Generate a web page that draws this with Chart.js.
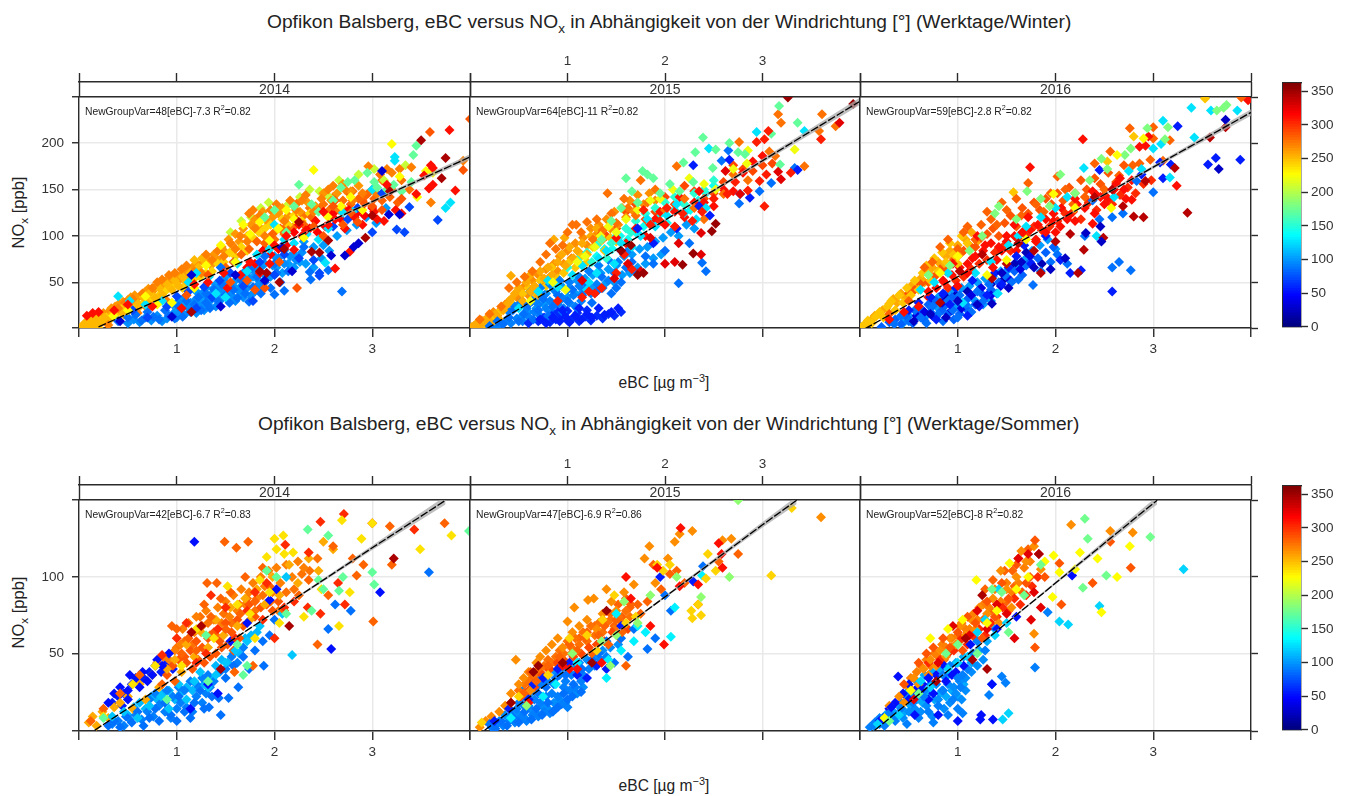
<!DOCTYPE html>
<html>
<head>
<meta charset="utf-8">
<title>Opfikon Balsberg eBC versus NOx</title>
<script src="https://cdn.jsdelivr.net/npm/chart.js@4/dist/chart.umd.min.js"></script>
<style>
  html, body { margin: 0; padding: 0; background: #fff; overflow: hidden; }
  body { width: 1349px; height: 796px; position: relative; font-family: "Liberation Sans", Arial, sans-serif; color: #222; }
  canvas { position: absolute; }
  .title { position: absolute; left: 0; font-size: 19.2px; white-space: nowrap; }
  .xlab { position: absolute; left: 564px; width: 200px; text-align: center; font-size: 15.6px; white-space: nowrap; }
  .ylab { position: absolute; left: -42px; width: 120px; text-align: center; font-size: 16.5px; transform: rotate(-90deg); white-space: nowrap; }
  .eq { position: absolute; font-size: 10.8px; white-space: nowrap; transform: scaleX(0.954); transform-origin: left center; }
  sub, sup { font-size: 70%; line-height: 0; }
</style>
</head>
<body>
<div class="title" style="left:267px;top:11px">Opfikon Balsberg, eBC versus NO<sub>x</sub> in Abhängigkeit von der Windrichtung [°] (Werktage/Winter)</div>
<div class="title" style="left:258px;top:413px">Opfikon Balsberg, eBC versus NO<sub>x</sub> in Abhängigkeit von der Windrichtung [°] (Werktage/Sommer)</div>
<div class="xlab" style="top:374px">eBC [µg m<sup>−3</sup>]</div>
<div class="xlab" style="top:777px">eBC [µg m<sup>−3</sup>]</div>
<div class="ylab" style="top:203px">NO<sub>x</sub> [ppb]</div>
<div class="ylab" style="top:603px">NO<sub>x</sub> [ppb]</div>
<script>
// axis values
const xTickValues = [0, 1, 2, 3, 4];
const xTickLabels = [1, 2, 3];
const winterYTicks = [0.8, 50, 100, 150, 200, 249.6];
const summerYTicks = [-0.5, 50, 100, 150.2];
const yTickLabels = [50, 100, 150, 200];
const keyTicks = [0, 50, 100, 150, 200, 250, 300, 350];
const years = ["2014", "2015", "2016"];

// fit text per panel
const winterEq = [["48", "7.3", "0.82"], ["64", "11", "0.82"], ["59", "2.8", "0.82"]];
const summerEq = [["42", "6.7", "0.83"], ["47", "6.9", "0.86"], ["52", "8", "0.82"]];

// fit lines: eBC, NOx, half width of grey band
const fitWinter2014 = [[0.2, 2, 0], [1, 40, 0.4], [2, 88, 0.6], [3, 137, 1.5], [4, 185, 3]];
const fitWinter2015 = [[0.17, 0, 0], [1, 53, 0.4], [2, 117, 0.8], [3, 181, 2.2], [4, 245, 4]];
const fitWinter2016 = [[0.05, 0, 0], [1, 56, 0.4], [2, 115, 0.7], [3, 174, 1.8], [4, 233, 3.5]];
const fitSummer2014 = [[0.16, 0, 0], [1, 35, 0.3], [2, 77, 0.5], [3, 119, 1.5], [3.75, 150, 2.8]];
const fitSummer2015 = [[0.15, 0, 0], [1, 40, 0.3], [2, 87, 0.7], [3, 134, 1.8], [3.35, 150, 2.6]];
const fitSummer2016 = [[0.15, 0, 0], [1, 44, 0.3], [2, 96, 0.8], [3, 148, 2.5], [3.04, 150, 2.7]];

// points: each row is a wind direction followed by eBC,NOx pairs
const winter2014 = [
  [100, 1.0,20,1.06,26,1.12,24,1.18,30,1.24,30,1.3,34,1.36,38,1.42,36,1.48,42,1.54,40,1.6,44,1.66,46,1.72,50,1.78,56,1.84,52,1.9,58,1.96,56,2.02,66,2.08,60,2.14,70,2.2,66,2.26,72,2.32,70,2.4,66,2.48,76,2.56,84,1.1,36,1.2,40,1.3,44,1.4,48,1.5,56,1.6,52,1.7,58,1.8,68,1.9,70,2.0,78,2.1,84,2.2,80,2.3,94,2.4,88,2.5,90,2.64,100,2.74,106,2.84,112,2.94,120,3.04,114,3.14,130],
  [275, 1.9,86,2.0,96,2.1,102,2.2,110,2.3,122,2.4,118,2.5,134,2.6,142,2.7,138,2.8,148,2.9,138,3.0,150,3.1,160,3.2,150,3.3,160,3.38,150,2.12,110,2.24,136,2.36,130,2.56,128,2.76,146,2.96,146,3.08,166],
  [205, 1.55,104,1.66,116,1.76,120,1.86,130,1.94,136,2.02,126,2.14,134,2.26,142,2.36,150,2.46,148,2.56,142,2.66,160,2.86,166,3.02,172,3.12,160,3.34,176],
  [262, .08,8,.13,11,.17,13,.21,15,.25,17,.3,18,.33,22,.37,24,.41,27,.45,29,.5,31,.53,34,.57,36,.6,33,.64,37,.68,40,.71,43,.75,40,.79,46,.83,49,.87,45,.89,52,.93,55,.96,50,1.0,58,1.03,53,1.07,60,1.1,63,1.13,57,1.16,66,1.2,70,1.24,62,1.27,72,1.31,76,1.35,68,1.38,80,1.42,74,1.46,88,1.5,82,1.53,96,1.57,90,1.6,102,1.64,94,1.68,108,1.72,100,1.76,112,1.8,118,1.84,110,1.88,126,1.92,116,1.98,120,2.04,124,2.08,130,2.14,122,2.2,132,2.26,126,2.34,136,2.42,132,2.5,146,2.58,138,2.64,146,2.7,156,2.78,148,2.86,154],
  [240, .05,1,.1,5,.16,7,.22,9,.28,12,.34,14,.4,18,.44,22,.5,20,.54,26,.6,24,.66,28,.72,30,.76,34,.82,36,.88,40,.94,44,1.0,48,1.06,44,1.12,50,1.18,54,1.24,56,1.3,60,1.36,62,1.42,70,1.48,72,1.54,82,1.6,78,1.66,88,1.72,84,1.78,98,1.84,104,1.9,108,1.96,112,2.02,106,2.08,118,2.14,112,2.2,122,2.28,116,2.36,124],
  [95, .5,6,.56,10,.62,7,.68,12,.74,9,.8,14,.85,8,.9,11,.96,16,1.0,12,1.04,18,1.08,15,1.12,22,1.16,20,1.2,17,1.24,24,1.28,20,1.32,26,1.36,32,1.4,24,1.44,30,1.48,38,1.52,32,1.56,36,1.6,30,1.64,40,1.68,34,1.72,44,1.76,36,1.8,40,1.84,48,1.88,44,1.92,54,.96,26,1.02,30,1.08,34,1.14,28,1.2,32,1.26,38,1.32,34,1.38,44,1.44,42,1.5,50,1.56,46,1.62,56,1.68,60,1.74,54,1.8,62,1.86,66,1.92,60,1.98,68,2.04,76,2.1,70,2.16,78,2.22,74,2.28,82],
  [280, 1.5,66,1.58,72,1.66,80,1.74,86,1.82,94,1.9,92,1.98,102,2.06,108,2.14,106,2.22,118,2.3,112,2.38,120,2.46,128,2.54,122,2.62,138,2.7,130,2.78,134,2.86,140,2.94,144,3.02,140,3.1,138,3.18,142,3.26,136],
  [315, 1.72,66,1.8,70,1.88,84,1.96,80,2.04,86,2.12,90,2.2,104,2.28,100,2.36,108,2.44,104,2.52,110,2.6,124,2.68,118,2.76,128,2.84,124,2.92,122,3.0,130],
  [250, .03,3,.06,6,.1,2,.12,8,.15,4,.18,10,.2,1,.22,6,.26,12,.3,8,.34,16,.38,11,.42,20,.46,15,.5,25,.55,19,.58,29,.62,24,.66,34,.7,28,.72,38,.78,33,.82,44,.85,37,.9,48,.95,42,.98,52,1.02,46,1.06,56,1.1,50,1.14,60,1.18,74,1.22,66,1.26,76,1.3,70],
  [270, .3,4,.4,22,.47,28,.55,32,.6,17,.65,38,.7,22,.75,44,.8,50,.85,53,.9,30,.92,58,.98,60,1.05,64,1.1,68,1.18,62,1.25,60,1.3,80,1.36,74,1.42,84,1.48,78,1.55,92,1.6,86,1.65,100,1.72,94,1.74,124,1.78,128,1.8,108,1.85,122,1.9,100,1.96,128,2.02,134,2.1,116,2.16,138,2.22,128,2.28,138,2.32,144,2.4,126,2.48,140,2.55,150,2.6,154,2.66,128,2.72,150,2.8,138,2.9,146,2.96,175,3.05,145,3.15,172,3.2,168,3.28,172,3.4,174,3.6,136,3.93,181],
  [85, .4,8,.5,12,.58,15,.64,9,.7,18,.76,13,.82,10,.88,20,.92,14,.98,11,1.02,24,1.06,13,1.1,30,1.14,18,1.18,26,1.22,34,1.25,20,1.3,28,1.3,38,1.34,22,1.38,42,1.42,30,1.46,48,1.5,36,1.54,28,1.58,42,1.62,33,1.66,52,1.7,38,1.74,29,1.78,45,1.82,56,1.86,38,1.9,50,1.96,44,2,37,2.02,60,2.06,50,2.1,41,2.14,62,1.45,66,1.6,72,1.75,64,1.9,78,2.0,70,2.3,88,2.37,53,2.36,61,2.55,63,2.69,40],
  [70, .55,20,.7,12,.9,24,1.0,35,1.12,40,1.2,22,1.28,45,1.36,34,1.44,52,1.55,60,1.68,46,1.78,30,1.85,72,2.0,58,2.1,80,2.25,76,2.4,74,2.46,60,2.46,57,2.6,110,2.75,118,2.85,130,3.0,104,3.1,146,3.25,107,3.33,104,3.38,131,3.67,117],
  [125, .4,35,.52,30,.68,26,.85,30,1.12,50,1.2,60,1.33,56,1.4,38,1.5,34,1.62,70,1.72,62,1.82,80,1.95,86,2.0,112,2.1,96,2.2,92,2.33,102,2.45,96,2.52,71,2.55,108,2.7,125,2.8,126,3.0,150,3.23,181,3.8,136,3.75,130,3.23,185],
  [225, .35,14,.5,20,.68,35,.8,26,.95,28,1.18,44,1.3,68,1.45,90,1.6,72,1.68,112,1.75,102,1.85,115,1.95,95,2.04,108,2.12,128,2.2,118,2.3,98,2.4,171,2.55,120,2.68,132,2.78,142,2.9,128,3.2,199,3.28,164,3.46,142,3.55,170,3.62,168],
  [170, 1.9,120,2.0,128,2.12,104,2.2,132,2.25,155,2.38,134,2.45,126,2.6,138,2.68,152,2.75,158,2.82,160,2.95,168,3.02,158,3.05,152,3.15,150,3.22,155,3.3,148,3.42,187,3.45,197,3.4,158],
  [310, .08,14,.14,17,.2,18,.36,20,.5,26,.75,24,1.05,22,1.18,48,1.32,50,1.48,60,1.52,44,1.65,58,1.75,72,1.85,60,1.95,70,2.0,90,2.12,100,2.2,85,2.25,112,2.32,106,2.42,116,2.5,126,2.55,112,2.62,118,2.72,108,2.82,120,2.9,112,3.02,126,3.05,118,3.12,116,3.15,155,3.24,128,3.3,124,3.45,145,3.53,165,3.6,176,3.62,155,3.58,151,3.62,173,3.79,214,3.85,149,2.62,65,2.77,83],
  [285, 1.1,36,1.32,58,1.55,50,1.72,52,1.8,42,1.9,44,2.05,72,2.23,44,2.4,110,2.5,100,2.6,132,2.7,112,2.78,125,2.85,115,2.92,135,3.0,132,3.1,128,3.3,140,3.59,212,3.93,171,4.0,226],
  [30, .42,8,.95,13,1.15,58,1.45,24,1.6,58,1.9,52,2.07,88,2.18,62,2.58,79,2.72,79,2.81,88,2.86,92,3.1,170,3.17,123,3.28,123],
  [345, 1.15,18,1.85,62,1.92,60,2.05,50,2.1,86,2.25,115,2.38,83,2.46,82,2.55,95,2.93,98,3.0,122,3.18,148,3.5,203,3.71,162,3.75,184]
];
const winter2015 = [
  [100, .52,12,.6,18,.68,22,.76,26,.84,28,.92,30,1.0,34,1.08,38,1.16,40,1.24,44,1.32,42,1.4,50,1.48,50,1.56,58,1.64,60,1.72,66,1.8,70,1.88,76,1.96,80,.7,32,.78,38,.86,42,.94,46,1.02,44,1.1,52,1.18,54,1.26,58,1.34,60,1.42,64,1.5,68,1.58,78,1.66,80,1.74,86,1.82,88,1.9,94,1.98,98,2.06,104,2.14,100,2.22,112,2.3,108],
  [140, 1.3,78,1.38,86,1.46,86,1.54,100,1.62,96,1.7,104,1.78,110,1.86,114,1.94,122,2.02,114,2.1,128,2.18,136,2.26,128,2.34,138,2.42,146,2.5,154],
  [290, 1.32,104,1.4,100,1.5,108,1.6,126,1.7,134,1.8,118,1.9,126,2.0,142,2.1,134,2.2,154,2.3,148,2.4,140,2.5,146,2.6,158,2.7,176,2.8,172,2.9,170,3.0,176,3.1,178],
  [265, .04,3,.08,6,.12,9,.16,6,.2,12,.24,18,.28,14,.32,21,.36,26,.4,30,.44,24,.48,34,.52,40,.56,46,.6,36,.64,52,.68,44,.7,58,.74,50,.78,64,.82,56,.86,70,.9,62,.92,78,.96,70,1.0,84,1.04,76,1.08,92,1.12,82,1.16,98,1.2,90,1.24,108,1.28,100,1.32,112,1.36,96,1.4,118,1.44,108,1.48,126,1.52,112,1.56,130,1.6,120,1.64,138,1.68,126,1.72,144,1.78,134,1.84,146,1.9,138],
  [245, .08,2,.14,5,.2,8,.26,12,.3,18,.36,22,.42,28,.48,24,.54,38,.6,44,.66,38,.72,52,.78,46,.84,66,.9,54,.96,60,1.02,72,1.08,66,1.14,78,1.2,72,1.26,88,1.32,92,1.38,84,1.44,98,1.5,94],
  [90, .24,2,.3,4,.36,8,.42,6,.48,11,.54,8,.6,13,.66,18,.72,14,.78,22,.84,18,.9,26,.96,22,1.02,28,1.08,24,1.14,30,.4,18,.46,24,.52,28,.58,22,.64,30,.7,26,.76,36,.82,30,.88,40,.94,34,1.0,42,1.06,36,1.12,46,1.18,42,1.24,38,1.3,48,1.36,44,1.42,52,1.48,60,.62,40,.72,44,.82,48,.92,52,1.02,50,1.12,56,1.22,62,1.32,68,1.42,74,1.52,72,1.62,84],
  [60, .6,6,.7,8,.76,12,.82,7,.88,10,.94,14,1.0,9,1.06,12,1.12,8,1.18,13,1.24,9,1.3,14,1.36,11,1.42,16,1.48,14,1.55,18,.84,14,.9,18,1.0,19,1.1,17,1.2,20],
  [150, 1.0,66,1.1,74,1.2,82,1.3,90,1.4,76,1.5,100,1.6,108,1.7,116,1.8,124,1.9,130,2.0,136,2.1,142,2.2,134,2.3,146,2.4,150,2.5,160,1.25,72,1.45,92,1.65,104],
  [310, 1.5,98,1.6,92,1.7,108,1.8,100,1.9,118,2.0,112,2.1,126,2.2,120,2.3,136,2.4,136,2.5,132,2.6,150,2.7,148,2.8,168,2.9,180,3.0,186,1.95,126,2.15,142,2.35,148],
  [255, .02,2,.06,5,.1,3,.14,8,.18,12,.22,6,.26,16,.3,10,.34,20,.38,26,.42,57,.42,32,.46,38,.5,44,.54,30,.58,50,.62,40,.61,57,.66,46,.7,36,.72,62,.76,54,.8,66,.84,58,.86,96,.9,72,.94,80,.98,68,.97,98,1.02,88,1.06,76,1.1,84,1.15,92,1.2,80,1.24,100,1.3,108],
  [275, .1,10,.2,16,.32,24,.4,44,.48,50,.56,56,.64,62,.72,72,.78,80,.82,92,.88,86,.95,90,1.0,104,1.05,112,1.09,112,1.14,104,1.2,115,1.26,96,1.3,118,1.36,106,1.41,146,1.45,124,1.5,114,1.58,140,1.62,130,1.7,122,1.75,160,1.82,136,1.9,150,2.0,128,2.12,175,2.2,140,2.3,130,2.4,118,2.6,145,2.7,166,2.76,201,2.85,160,3.07,191,3.13,186,3.16,231,3.19,222,3.43,175,3.61,231,3.58,213,3.75,218],
  [85, .2,3,.28,8,.34,5,.4,12,.44,20,.5,8,.55,16,.6,26,.65,10,.7,20,.75,32,.8,14,.85,24,.9,36,.95,18,1.0,30,1.05,42,1.1,22,1.15,36,1.2,48,1.25,28,1.3,40,1.35,56,1.45,38,1.5,44,1.55,50,1.6,66,1.66,72,1.72,60,1.8,78,1.88,70,2.0,84,2.14,49,2.42,62,2.38,71,2.25,92,2.58,181,2.65,192,2.77,145,2.97,148,3.09,157,3.33,173,2.76,135],
  [55, .72,10,.78,6,.85,12,.92,8,.98,13,1.02,7,1.08,14,1.14,10,1.2,16,1.25,12,1.32,22,1.38,15,1.45,18,1.52,22,1.12,22,.95,20,1.55,84,1.72,108,1.88,92,2.12,108,2.29,176,2.35,132,2.46,122,2.66,182,2.87,141,3.36,171],
  [125, .5,22,.7,40,.8,52,.9,45,1.05,58,1.15,68,1.22,50,1.32,76,1.4,84,1.48,70,1.55,92,1.66,88,1.75,100,1.82,118,1.9,110,2.02,122,2.12,134,2.2,125,2.32,118,2.42,130,2.45,194,2.94,212,3.43,213,1.3,60,1.2,42],
  [220, .62,30,.85,50,.98,42,1.1,72,1.18,78,1.28,88,1.34,100,1.42,110,1.5,104,1.6,118,1.72,128,1.85,138,1.95,140,2.08,150,2.25,162,2.4,156,2.52,150,2.7,172,2.85,192,3.33,193,2.84,178],
  [170, 1.35,96,1.45,116,1.55,130,1.6,162,1.66,148,1.77,170,1.82,166,1.88,162,1.95,146,2.05,156,2.15,148,2.19,179,2.29,158,2.31,190,2.39,206,2.49,173,2.52,193,2.66,200,2.75,190,2.82,188,3.09,210,3.17,240,3.18,177,3.36,222,1.72,136],
  [305, .9,30,1.15,34,1.22,40,1.28,38,1.35,44,1.5,60,1.58,80,1.66,64,1.78,128,1.85,112,1.95,116,2.02,130,2.1,110,2.18,124,2.28,116,2.38,126,2.5,140,2.64,145,2.72,158,2.85,149,2.97,159,3.02,204,2.94,201,3.04,166,3.29,168,3.6,204,3.06,213,3.02,132],
  [325, 1.15,52,1.48,54,1.62,70,1.75,62,1.85,98,2.0,70,2.1,72,2.14,92,2.37,103,2.37,80,2.62,170,2.77,145,3.16,169,3.19,161,3.79,222],
  [350, 1.55,84,1.65,90,1.72,58,1.78,60,2.18,69,2.29,81,2.48,105,2.52,113,3.93,242,3.26,249]
];
const winter2016 = [
  [100, .44,6,.5,14,.58,18,.66,12,.72,24,.8,22,.88,26,.96,24,1.02,22,1.1,24,1.18,30,1.26,26,1.34,30,.8,34,.88,38,.96,40,1.04,44,1.12,46,1.2,50,1.28,54,1.36,56,1.44,62,1.52,64,1.6,70,1.68,74,1.76,84,1.84,90,1.92,96,2.0,86],
  [300, .9,44,.98,52,1.06,56,1.14,64,1.22,70,1.3,74,1.38,82,1.46,88,1.54,84,1.62,96,1.7,100,1.78,110,1.86,106,1.94,110,2.02,116,2.1,124,2.18,126,2.26,118,2.34,136,2.42,128,2.5,144,2.58,134,2.66,144,2.74,152,2.82,146,2.9,156,2.98,160],
  [20, .64,20,.74,32,.86,36,.98,36,1.1,40,1.22,42,1.34,48,1.46,52,1.58,70,1.7,82,1.86,70],
  [255, .04,3,.08,7,.12,10,.15,14,.19,16,.23,20,.27,22,.3,27,.34,32,.38,28,.42,38,.46,34,.5,42,.54,48,.58,46,.62,54,.66,50,.7,60,.74,66,.78,58,.8,72,.84,68,.88,78,.92,84,.96,76,1.0,90,1.04,82,1.08,96,1.14,104,1.2,94],
  [285, .5,38,.56,42,.62,48,.7,50,.76,56,.82,64,.88,62,.94,72,1.0,78,1.06,84,1.12,90,1.18,88,1.24,98,1.3,102,1.36,108,1.42,100,1.48,114,1.54,122,1.6,110,1.66,130,1.72,124,1.78,136,1.84,128,1.9,140,1.96,134,2.02,146,2.08,138,2.14,152,2.2,146,2.26,160,2.32,150,2.4,162,2.46,156,2.54,168,2.62,158,2.7,176],
  [310, .7,34,.78,44,.86,50,.94,58,1.02,66,1.1,70,1.18,78,1.26,84,1.34,92,1.42,88,1.5,94,1.58,100,1.66,92,1.74,106,1.82,112,1.9,118,1.98,124,2.06,130,2.14,122,2.22,134,2.3,130,2.38,148,2.46,142,2.54,140,2.62,156,2.7,150,2.78,160,1.4,74,1.6,84,1.8,94,2.0,104,2.2,116,2.4,124],
  [80, .22,2,.3,7,.36,10,.42,5,.48,12,.54,6,.6,14,.66,9,.72,18,.78,13,.84,20,.9,16,.96,10,1.02,16,1.08,22,.62,22,.7,26,.78,30,.86,24,.94,34,1.02,28,1.1,32,1.18,26,1.26,36,1.34,42,1.42,50,1.5,56,1.58,62,1.66,58,1.74,72,1.82,76,1.9,82,1.98,88],
  [35, .58,14,.66,18,.74,14,.84,28,.94,20,1.04,22,1.14,36,1.24,44,1.34,36,1.44,46,1.54,52,1.64,64,1.74,78],
  [245, .02,2,.05,5,.08,9,.12,6,.16,13,.2,18,.24,12,.28,24,.32,30,.36,20,.4,36,.44,28,.48,44,.52,36,.56,52,.6,42,.64,60,.68,68,.72,52,.76,76,.8,62,.84,82,.88,72,.92,92,.96,80,1.0,70,1.04,100,1.1,92,1.57,147,2.53,180,2.8,207,3.53,248],
  [280, .3,16,.5,30,.66,66,.74,72,.82,88,.9,96,1.0,86,1.06,104,1.1,110,1.18,96,1.24,112,1.3,126,1.34,118,1.4,112,1.45,136,1.5,128,1.6,140,1.65,122,1.72,157,1.8,134,1.88,126,1.95,146,2.02,164,2.1,150,2.18,134,2.3,142,2.4,178,2.5,150,2.56,191,2.65,165,2.76,216,2.79,176,2.86,178,2.97,182,3.0,205,3.0,217,3.1,181,3.17,203,3.9,249],
  [85, .35,5,.42,14,.5,8,.56,20,.62,12,.68,6,.74,24,.8,16,.85,8,.9,30,.95,20,1.0,12,1.02,36,1.08,26,1.14,18,1.2,40,1.26,30,1.32,48,1.4,38,1.48,58,1.55,50,1.62,53,1.7,68,1.77,47,1.85,62,1.95,72,2.02,80,2.12,70,2.3,100,2.38,138,2.45,118,2.58,120,2.58,66,2.65,72,2.69,124,2.77,63,2.83,159,3.0,147],
  [55, .5,20,.6,28,.72,34,.78,10,.85,38,.92,26,.98,44,1.1,14,1.15,52,1.22,24,1.3,36,1.38,60,1.45,48,1.52,66,1.6,78,1.68,90,1.75,70,1.9,100,2.05,74,2.15,60,2.26,63,2.45,171,2.88,166,3.1,162,3.18,177,3.07,179,3.25,218,3.56,177,3.64,184,3.89,182,2.58,40],
  [125, .62,42,.76,50,.9,60,1.05,28,1.18,60,1.34,72,1.41,38,1.52,90,1.62,100,1.7,110,1.85,120,2.0,130,2.12,142,2.29,173,2.42,100,2.6,142,2.75,170,2.88,172,3.0,194,3.08,199,3.1,224,3.17,163,3.39,238,3.42,206,3.59,235,3.86,235],
  [310, .3,10,.45,18,.6,24,.7,40,.85,52,.95,70,1.0,46,1.1,60,1.15,76,1.2,100,1.28,90,1.36,66,1.45,84,1.5,100,1.58,112,1.66,104,1.72,120,1.74,174,1.8,96,1.9,104,1.98,116,2.05,110,2.12,118,2.2,140,2.28,204,2.38,113,2.42,144,2.5,134,2.6,150,2.66,162,2.72,140,2.78,139,2.86,196,2.92,197,2.95,207,3.24,154,3.97,246],
  [180, .7,58,.92,68,1.12,84,1.25,100,1.38,124,1.42,132,1.6,118,1.71,148,1.85,140,1.94,132,2.05,166,2.2,146,2.35,160,2.47,183,2.53,172,2.71,187,2.77,194,2.94,216,3.12,204,3.15,217,3.65,235,3.72,238,3.75,241],
  [340, .82,28,1.02,62,1.25,80,1.35,54,1.5,70,1.62,92,1.78,84,1.85,60,2.0,94,2.15,102,2.23,60,2.29,85,2.4,142,2.49,98,2.58,150,2.69,132,2.8,121,2.9,120,2.92,159,3.22,173,3.35,125,3.58,206,3.74,217],
  [25, .55,8,.72,16,.88,12,1.0,30,1.2,26,1.35,27,1.45,60,1.52,44,1.65,72,1.78,66,1.95,64,2.1,76,2.31,103,2.46,110,2.47,94,3.67,172,3.74,225],
  [225, .82,60,1.0,78,1.3,58,1.5,74,1.7,96,1.98,145,2.2,130,2.57,130,2.63,187,2.9,205]
];
const summer2014 = [
  [110, .5,10,.56,15,.62,18,.68,14,.74,22,.8,20,.86,24,.92,26,.98,20,1.04,24,1.1,28,1.16,26,1.22,28,1.28,30,1.34,34,1.4,42,1.46,46,1.52,44,1.58,50,1.64,50,1.7,60,1.76,62,1.82,64],
  [275, 1.0,54,1.08,58,1.16,56,1.24,74,1.32,70,1.4,62,1.48,76,1.56,70,1.64,82,1.72,86,1.8,78,1.88,88,1.96,84,2.04,78,2.12,90,2.2,92,2.28,102,2.36,104,2.44,112],
  [90, .34,4,.4,6,.46,3,.52,7,.58,10,.64,7,.7,12,.76,9,.82,16,.88,12,.94,8,1.0,14,1.04,18,1.1,15,1.16,12,1.2,22,1.26,18,1.3,24,1.34,28,.72,20,.78,24,.84,18,.9,26,.96,22,1.02,28,1.08,26,1.14,32,1.2,30,1.26,34,1.32,36,1.38,32,1.44,38,1.5,40,1.56,48,1.62,44,1.68,54],
  [55, .34,18,.4,22,.46,24,.54,30,.6,32,.66,34,.72,38,.78,42,.84,38,.9,44,.96,40,.44,16],
  [270, .8,44,.86,48,.92,46,.98,52,1.04,56,1.06,66,1.12,70,1.18,64,1.2,74,1.26,68,1.3,78,1.34,62,1.38,72,1.42,80,1.46,70,1.5,84,1.54,74,1.58,88,1.62,78,1.66,92,1.7,82,1.74,90,1.78,96,1.82,86,1.86,100,1.9,94,1.94,104,1.98,90,2.02,106,2.06,96,2.12,108,2.18,100,2.24,110,2.3,106],
  [285, .9,36,.96,42,1.02,46,1.08,48,1.14,52,1.2,58,1.26,54,1.32,60,1.38,64,1.44,58,1.5,70,1.56,64,1.62,72,1.68,68,1.74,82,1.8,74,1.86,80,1.92,82,1.98,78,2.04,84,1.1,44,1.16,40,1.22,46,1.28,44,1.34,48,1.4,50,1.46,54,1.52,56,1.58,52,1.64,60],
  [255, .1,5,.14,9,.18,3,.24,12,.3,8,.36,15,.42,18,.5,22,.55,14,.62,30,.68,20,.75,36,.82,28,.9,40,.98,46,1.05,38,1.1,56,1.18,48,1.25,64,1.32,54,1.4,72,1.48,62,1.55,80,1.62,68,1.7,86,1.75,72,1.82,92,1.9,82,1.98,100,2.05,88,2.15,108,2.24,96,2.35,112,2.45,104,2.5,123,2.6,118],
  [85, .3,3,.36,6,.42,2,.48,9,.54,5,.6,12,.66,3,.72,8,.78,14,.82,6,.88,18,.94,10,1.0,6,1.02,22,1.08,12,1.14,8,1.18,18,1.24,26,1.28,14,1.33,15,1.36,22,1.43,21,1.45,10,1.53,21,1.5,34,1.58,42,1.63,28,1.68,48,1.74,40,1.8,52,1.88,58,1.89,42,1.95,62,2.0,72,2.62,82,2.55,66,3.58,103,2.78,78],
  [115, .34,9,.46,12,.6,8,.72,16,.84,22,.92,14,1.02,30,1.1,20,1.18,32,1.24,38,1.32,28,1.4,36,1.5,44,1.6,52,1.72,58,1.85,68,2.08,76,2.18,49,2.12,100],
  [50, .3,18,.36,24,.42,28,.5,26,.52,36,.58,34,.62,28,.65,38,.7,32,.75,36,.8,46,.85,42,.92,50,1.14,14,1.32,30,1.42,24,1.55,58,1.72,70,1.95,85,2.02,92,2.58,53,3.08,90,.5,20,1.18,123],
  [280, .12,6,.25,14,.42,24,.62,36,.85,30,.98,32,1.05,50,1.12,60,1.2,52,1.28,82,1.31,96,1.35,74,1.41,96,1.45,86,1.5,66,1.55,90,1.59,38,1.61,119,1.65,76,1.7,100,1.73,123,1.78,42,1.8,84,1.88,106,1.95,94,2.1,78,2.25,88,2.35,98,2.44,56,2.55,88,2.6,120,2.8,112,2.84,101,2.91,108,3.01,71,3.18,133,3.2,108,3.74,135,1.49,123,1.0,66,.95,68],
  [300, .85,49,1.0,60,1.1,70,1.2,44,1.3,50,1.35,88,1.42,66,1.5,80,1.6,60,1.72,78,1.8,90,1.88,72,1.92,96,2.0,60,2.1,80,2.2,84,2.34,80,2.35,116,2.47,136,2.47,76,2.72,82,2.65,96,2.71,141,3.43,131,3.0,135,2.11,121],
  [235, .25,9,.55,30,.78,42,1.05,42,1.2,66,1.38,60,1.52,94,1.62,82,1.75,76,1.85,98,1.92,113,1.95,90,2.0,125,2.1,115,2.09,127,2.02,118,2.19,116,2.3,74,2.48,92,2.66,68,2.69,137,2.77,90,2.89,125,3.0,135,3.49,118,3.81,127,1.8,60,2.05,70],
  [170, .25,8,.9,20,1.3,62,1.62,56,1.68,36,1.72,42,1.92,104,2.02,100,2.12,76,2.34,131,2.38,78,2.45,98,2.5,92,2.55,127,2.66,91,2.7,100,3.0,103,3.02,95,3.99,130,1.32,32],
  [345, 1.15,64,1.25,68,1.45,40,2.15,68,3.22,112]
];
const summer2015 = [
  [95, .3,6,.36,10,.44,12,.5,10,.56,8,.62,14,.68,11,.74,16,.8,14,.86,18,.92,20,.98,18,1.04,26,1.1,24,1.16,28,.54,26,.64,28,.72,34,.8,36,.88,38,.96,40,1.04,42,1.12,44,1.2,46,1.28,48,1.36,52,1.44,54,1.52,56],
  [280, .64,34,.72,38,.8,40,.88,44,.96,46,1.04,50,1.12,60,1.2,64,1.28,68,1.36,72,1.44,76,1.52,82,1.6,86,1.48,68,1.56,74,1.64,80,1.72,82],
  [90, .22,2,.28,4,.34,3,.4,6,.46,5,.52,8,.58,6,.64,10,.7,9,.76,12,.82,11,.88,14,.94,17,1.0,15,.42,10,.48,14,.54,17,.6,16,.66,20,.72,18,.78,22,.84,24,.9,22,.96,28,1.02,26,1.08,28,1.14,32,.5,18,.56,22,.62,24,.68,28,.74,30,.8,32,.86,30,.92,36,.98,32,1.04,36,1.1,38,1.16,36,1.22,40,1.28,42,1.34,46,1.4,48],
  [275, .5,26,.56,30,.6,32,.66,36,.7,40,.76,42,.8,46,.84,44,.88,48,.92,52,.96,50,1.0,58,1.04,54,1.08,60,1.12,56,1.16,64,1.2,58,1.24,68,1.28,62,1.32,70,1.36,64,1.4,70,1.44,72,1.48,66,1.52,74,1.56,70,1.6,78,1.64,74],
  [290, .52,22,.6,26,.66,28,.74,36,.82,40,.9,44,.98,44,1.06,48,1.14,50,1.22,54,1.3,56,1.38,58,1.46,64,1.54,60,1.62,66],
  [265, .1,2,.16,6,.22,9,.3,12,.36,16,.42,24,.47,46,.5,30,.55,34,.6,38,.62,26,.68,44,.72,48,.78,52,.84,56,.9,60,.95,54,1.0,71,1.05,64,1.07,80,1.12,68,1.2,72,1.21,85,1.27,86,1.3,66,1.36,76,1.4,92,1.45,84,1.5,78,1.58,90,1.68,95,1.79,112,1.84,120,1.9,96,2.03,112,2.1,123,2.15,128,2.28,130,2.59,124,2.68,125,3.6,139],
  [85, .2,4,.26,1,.32,6,.38,3,.44,8,.5,5,.56,12,.63,7,.68,14,.74,10,.8,18,.85,12,.9,15,.96,24,1.0,20,1.05,22,1.14,25,.7,24,.78,28,.88,34,.98,36,1.06,30,1.15,40,1.25,46,1.32,50,1.4,58,1.48,44,1.55,60,1.62,48,1.68,66,1.82,53,1.9,60,2.39,107,2.06,78,2.0,88],
  [55, .25,6,.4,14,.6,20,.65,30,.75,34,.9,40,1.02,44,1.1,36,1.2,34,1.3,42,1.4,40,1.55,68,1.95,100,2.29,97],
  [280, .42,18,.55,24,.62,38,.68,32,.8,42,.92,48,1.02,56,1.1,52,1.18,60,1.25,50,1.32,62,1.38,68,1.42,56,1.5,72,1.56,64,1.65,82,1.75,76,1.82,84,1.88,108,1.96,92,2.05,102,2.12,104,2.2,96,2.34,82,2.55,110,2.75,115,1.6,42],
  [130, .42,8,.75,22,.88,30,1.1,44,1.4,34,1.42,46,1.55,52,1.68,58,1.72,68,1.8,64,2.06,61,2.1,80,2.38,101,1.5,76],
  [240, .12,5,.5,22,.8,36,1.02,60,1.2,62,1.3,52,1.36,72,1.48,88,1.6,70,1.7,74,1.92,108,1.98,104,2.05,108,2.27,78,2.28,73,2.34,82,2.37,75,2.42,99,2.44,115,2.52,104,3.09,101,3.3,145],
  [310, .6,18,.95,42,1.02,40,1.1,40,1.35,44,1.6,100,1.65,86,1.85,68,1.92,106,1.99,56,2.15,94,2.16,132,2.34,95,2.58,115,2.59,106,2.55,122],
  [185, .58,16,1.05,50,1.35,58,1.44,42,1.5,62,1.58,84,1.72,70,1.85,88,2.12,100,2.37,87,2.66,100,2.75,150],
  [350, .65,38,.95,44,1.25,44,1.4,78,.7,42,.42,18]
];
const summer2016 = [
  [105, .26,10,.34,12,.4,16,.46,12,.52,16,.58,20,.64,18,.7,24,.76,20,.82,24,.88,22,.94,26,1.0,22,1.06,30,.5,26,.58,32,.66,36,.74,38,.82,40,.9,36,.98,44,1.06,48,1.14,44,1.22,52,1.3,58,1.38,66],
  [280, .86,46,.94,54,1.02,58,1.1,64,1.18,60,1.26,72,1.34,78,1.42,80,1.5,84,1.58,94,1.66,90,1.74,100,1.28,92,1.36,98,1.48,104,1.56,104,1.62,112,1.72,118],
  [95, .14,3,.2,4,.26,6,.32,8,.38,10,.44,8,.5,12,.56,14,.62,12,.68,16,.74,9,.8,20,.86,14,.92,18,.98,24,1.04,20,1.08,26,.42,18,.48,22,.54,24,.6,28,.66,26,.72,30,.78,30,.84,26,.9,30,.96,28,1.02,32,1.08,34,1.14,38,1.2,42,1.26,46],
  [50, .24,8,.3,14,.36,18,.44,24,.5,20,.56,26,.64,30,.7,20,.78,36,.86,42,.94,36,.98,38],
  [270, .52,34,.58,38,.62,42,.68,46,.72,42,.76,50,.8,48,.84,56,.88,54,.94,60,1.0,62,1.04,70,1.08,66,1.12,66,1.16,76,1.2,72,1.26,82,1.32,80,1.38,92,1.44,84,1.5,96,1.56,90,1.62,96,1.68,106,1.74,110],
  [300, .7,44,.82,46,.9,50,.96,52,1.04,60,1.1,56,1.16,62,1.22,66,1.28,62,1.34,70,1.4,74,1.46,80,1.52,78,1.58,86,1.64,82,1.7,88,1.76,94,1.82,100],
  [265, .3,16,.4,22,.45,18,.5,28,.55,34,.6,30,.65,40,.7,36,.72,46,.78,42,.82,52,.88,48,.92,60,.98,56,1.02,68,1.08,62,1.14,72,1.18,66,1.22,80,1.3,76,1.36,86,1.42,70,1.44,104,1.5,92,1.55,80,1.6,100,1.65,117,1.7,110,1.78,63,1.78,120,1.85,105,2.16,134,2.56,130,2.79,129],
  [90, .1,2,.15,5,.2,8,.25,3,.3,11,.36,6,.42,14,.48,4,.54,18,.6,8,.65,22,.7,12,.75,5,.8,16,.85,26,.9,10,.95,20,1.0,14,1.03,28,1.05,11,1.05,36,.85,36,.92,42,1.0,34,1.1,40,1.15,50,1.2,58,1.28,52,1.35,30,1.32,23,1.45,35,1.49,31,1.79,41,1.92,77],
  [50, .2,6,.32,15,.39,35,.5,30,.56,10,.62,26,.7,34,.75,24,.8,10,.88,32,1.0,6,1.06,42,1.24,10,1.23,7,1.36,7,1.35,30,1.13,56,1.4,66,1.6,74,2.17,101],
  [285, .45,30,.6,44,.68,50,.75,54,.85,60,.92,54,1.0,64,1.05,52,1.1,74,1.18,70,1.25,60,1.3,84,1.38,74,1.45,96,1.52,86,1.6,108,1.7,96,1.79,124,1.79,54,1.89,100,2.04,109,2.06,82,2.38,96,2.56,123,2.77,106],
  [120, .18,4,.4,10,.62,32,.72,28,.9,40,1.0,44,1.1,48,1.2,64,1.28,72,1.38,62,1.42,92,1.5,70,2.04,71,2.13,69,2.45,81,1.52,11,1.46,7,3.31,105],
  [325, .55,20,.8,44,.95,68,1.12,62,1.2,78,1.3,66,1.4,82,1.5,76,1.62,112,1.72,115,1.78,90,1.83,115,1.75,72,1.58,60,1.85,80],
  [225, .25,8,.52,26,.72,60,.9,66,1.05,72,1.19,98,1.3,70,1.4,78,1.53,109,1.6,92,1.72,100,1.89,110,1.97,87,1.98,114,2.04,103,2.2,105,2.25,116,2.43,112,2.47,77,2.63,100,2.76,120],
  [175, .3,6,.6,24,.88,50,1.0,56,1.2,50,1.35,92,1.45,90,1.52,64,1.68,88,1.85,108,2.28,93,2.3,138,2.33,125,2.52,101,2.97,126],
  [345, .78,32,1.08,60,1.15,46,1.25,88,1.3,40,1.83,115]
];

const jetStops = ["#00007F", "#0000FF", "#007FFF", "#00FFFF", "#7FFF7F", "#FFFF00", "#FF7F00", "#FF0000", "#7F0000"];
const lineColor = "#2b2b2b";
const gridColor = "#e9e9e9";

function hexPart(hex, i) {
  return parseInt(hex.substr(1 + i * 2, 2), 16);
}

// wind direction to colour, same ramp as the colour key
function dirColor(dir) {
  const pos = Math.min(dir, 359.9) / 45;
  const i = Math.floor(pos);
  const f = pos - i;
  const rgb = [0, 1, 2].map((k) => Math.round(hexPart(jetStops[i], k) * (1 - f) + hexPart(jetStops[i + 1], k) * f));
  return `rgb(${rgb.join(",")})`;
}

function addCanvas(left, top, width, height) {
  const canvas = document.createElement("canvas");
  canvas.width = width;
  canvas.height = height;
  canvas.style.left = left + "px";
  canvas.style.top = top + "px";
  canvas.style.width = width + "px";
  canvas.style.height = height + "px";
  document.body.appendChild(canvas);
  return canvas;
}

const tickFont = { family: "'Liberation Sans', Arial, sans-serif", size: 13.5 };

function createPanel(rows, fit, eq, year, left, right, plotTop, plotBottom, yTicks, col) {
  const marginLeft = 50, marginRight = 10, marginTop = 30, marginBottom = 30, stripHeight = 15;
  const canvas = addCanvas(left - marginLeft, plotTop - stripHeight - marginTop,
    right - left + marginLeft + marginRight, plotBottom - plotTop + stripHeight + marginTop + marginBottom);

  const xs = [], ys = [], colors = [];
  rows.forEach((row) => {
    for (let i = 1; i < row.length; i += 2) {
      xs.push(row[i]);
      ys.push(row[i + 1]);
      colors.push(dirColor(row[0]));
    }
  });

  const setXTicks = (scale) => { scale.ticks = xTickValues.map((v) => ({ value: v })); };
  const setYTicks = (scale) => { scale.ticks = yTicks.map((v) => ({ value: v })); };
  const xBase = { type: "linear", min: 0, max: 4, afterBuildTicks: setXTicks };
  const yBase = { type: "linear", min: yTicks[0], max: yTicks[yTicks.length - 1], afterBuildTicks: setYTicks };
  const border = { color: lineColor, width: 1.4 };
  const xLabel = (v) => (xTickLabels.includes(v) ? v : "");
  const yLabel = (v) => (yTickLabels.includes(v) ? v : "");

  new Chart(canvas, {
    type: "scatter",
    data: {
      datasets: [
        {
          type: "line",
          data: fit.map((p) => ({ x: p[0], y: p[1] + p[2] })),
          borderWidth: 0,
          pointRadius: 0,
          fill: false,
          clip: 0,
          order: 1
        },
        {
          type: "line",
          data: fit.map((p) => ({ x: p[0], y: p[1] - p[2] })),
          borderWidth: 0,
          pointRadius: 0,
          backgroundColor: "rgba(170,170,170,0.75)",
          fill: "-1",
          clip: 0,
          order: 1
        },
        {
          type: "line",
          data: fit.map((p) => ({ x: p[0], y: p[1] })),
          borderColor: "#000",
          borderWidth: 1.3,
          borderDash: [8, 2],
          pointRadius: 0,
          clip: 0,
          order: 0
        },
        {
          data: xs.map((x, i) => ({ x: x, y: ys[i] })),
          backgroundColor: colors,
          pointStyle: "rectRot",
          pointRadius: 5,
          borderWidth: 0,
          clip: 0,
          order: 2
        }
      ]
    },
    options: {
      responsive: false,
      animation: false,
      layout: { padding: 0 },
      plugins: { legend: { display: false }, tooltip: { enabled: false } },
      scales: {
        x: {
          ...xBase,
          position: "bottom",
          border: border,
          grid: { color: gridColor, lineWidth: 1.5, tickColor: lineColor, tickWidth: 1.4, tickLength: 9 },
          ticks: {
            display: col !== 1, callback: xLabel, color: "#333", font: tickFont, padding: 4,
            maxRotation: 0, autoSkip: false
          },
          afterFit: (s) => { s.height = marginBottom; }
        },
        strip: {
          ...xBase,
          position: "top",
          weight: 0,
          afterBuildTicks: (s) => { s.ticks = [{ value: 0 }, { value: 4 }]; },
          border: border,
          grid: { drawOnChartArea: false, tickColor: lineColor, tickWidth: 1.4, tickLength: stripHeight },
          ticks: { display: false },
          title: { display: true, text: year, color: "#333", font: { ...tickFont, size: 14 }, padding: 0 },
          afterFit: (s) => { s.height = stripHeight; }
        },
        xTop: {
          ...xBase,
          position: "top",
          weight: 1,
          border: border,
          grid: { drawOnChartArea: false, tickColor: lineColor, tickWidth: 1.4, tickLength: 9 },
          ticks: {
            display: col === 1, callback: xLabel, color: "#333", font: tickFont, padding: 4,
            maxRotation: 0, autoSkip: false
          },
          afterFit: (s) => { s.height = marginTop; }
        },
        y: {
          ...yBase,
          position: "left",
          border: border,
          grid: {
            color: gridColor, lineWidth: 1.5, tickColor: lineColor, tickWidth: 1.4,
            drawTicks: col === 0, tickLength: 7
          },
          ticks: { display: col === 0, callback: yLabel, color: "#333", font: tickFont, padding: 8, autoSkip: false },
          afterFit: (s) => { s.width = marginLeft; }
        },
        yRight: {
          ...yBase,
          position: "right",
          border: border,
          grid: { drawOnChartArea: false, tickColor: lineColor, tickWidth: 1.4, drawTicks: col === 2, tickLength: 7 },
          ticks: { display: false },
          afterFit: (s) => { s.width = marginRight; }
        }
      }
    }
  });

  const label = document.createElement("div");
  label.className = "eq";
  label.style.left = left + 6 + "px";
  label.style.top = plotTop + 8 + "px";
  label.innerHTML = `NewGroupVar=${eq[0]}[eBC]-${eq[1]} R<sup>2</sup>=${eq[2]}`;
  document.body.appendChild(label);
}

function createKey(plotTop, plotBottom) {
  const left = 1283, barWidth = 18, labelWidth = 40, margin = 10;
  const canvas = addCanvas(left - margin, plotTop - margin, margin + barWidth + labelWidth, plotBottom - plotTop + 2 * margin);
  const datasets = [];
  for (let v = 0; v < 362; v += 4) {
    datasets.push({
      data: [[v, v + 5]], backgroundColor: dirColor(v + 2), borderWidth: 0,
      barPercentage: 1, categoryPercentage: 1, grouped: false, xAxisID: "x", yAxisID: "y"
    });
  }
  const border = { color: lineColor, width: 1.4 };
  const hidden = { drawOnChartArea: false, drawTicks: false };
  new Chart(canvas, {
    type: "bar",
    data: { labels: [""], datasets: datasets },
    options: {
      responsive: false,
      animation: false,
      layout: { padding: 0 },
      plugins: { legend: { display: false }, tooltip: { enabled: false } },
      scales: {
        x: {
          position: "bottom", border: border, grid: hidden, ticks: { display: false },
          afterFit: (s) => { s.height = margin; }
        },
        xTop: {
          type: "linear", position: "top", min: 0, max: 1, border: border, grid: hidden, ticks: { display: false },
          afterFit: (s) => { s.height = margin; }
        },
        yLeft: {
          type: "linear", position: "left", min: 0, max: 1, border: border, grid: hidden, ticks: { display: false },
          afterFit: (s) => { s.width = margin; }
        },
        y: {
          position: "right", min: 0, max: 362, border: border,
          afterBuildTicks: (s) => { s.ticks = keyTicks.map((v) => ({ value: v })); },
          grid: { drawOnChartArea: false, tickColor: lineColor, tickWidth: 1.4, tickLength: 7 },
          ticks: { color: "#333", font: tickFont, padding: 3, autoSkip: false },
          afterFit: (s) => { s.width = labelWidth; }
        }
      }
    }
  });
}

const panelEdges = [[79, 470], [470, 860], [860, 1251]];
const winterData = [winter2014, winter2015, winter2016];
const summerData = [summer2014, summer2015, summer2016];
const winterFits = [fitWinter2014, fitWinter2015, fitWinter2016];
const summerFits = [fitSummer2014, fitSummer2015, fitSummer2016];

panelEdges.forEach((edge, i) => {
  createPanel(winterData[i], winterFits[i], winterEq[i], years[i], edge[0], edge[1], 97, 328, winterYTicks, i);
  createPanel(summerData[i], summerFits[i], summerEq[i], years[i], edge[0], edge[1], 500, 731, summerYTicks, i);
});
createKey(82, 328);
createKey(485, 731);
</script>
</body>
</html>
